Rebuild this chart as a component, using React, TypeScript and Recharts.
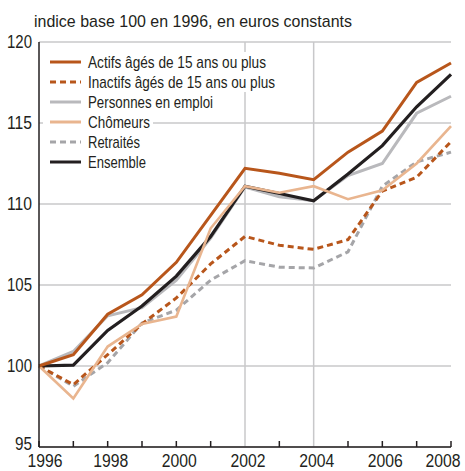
import { LineChart, Line, XAxis, YAxis, CartesianGrid, ReferenceLine } from "recharts";

const years = [1996, 1997, 1998, 1999, 2000, 2001, 2002, 2003, 2004, 2005, 2006, 2007, 2008];
const actifs = [100, 100.7, 103.2, 104.4, 106.4, 109.3, 112.2, 111.9, 111.5, 113.2, 114.5, 117.5, 118.7];
const inactifs = [100, 98.85, 100.7, 102.6, 104.2, 106.3, 108.0, 107.45, 107.2, 107.8, 110.8, 111.65, 113.85];
const emploi = [100, 100.9, 103.1, 103.6, 105.3, 107.9, 111.05, 110.45, 110.2, 111.75, 112.5, 115.6, 116.65];
const chomeurs = [100, 98.0, 101.2, 102.6, 103.05, 108.5, 111.1, 110.7, 111.1, 110.3, 110.85, 112.5, 114.8];
const retraites = [100, 98.75, 100.2, 102.65, 103.45, 105.3, 106.5, 106.1, 106.05, 107.05, 111.1, 112.6, 113.2];
const ensemble = [100, 100.05, 102.2, 103.7, 105.55, 108.0, 111.1, 110.65, 110.2, 111.85, 113.6, 116.0, 118.0];
const yTicks = [95, 100, 105, 110, 115, 120];
const xLabels = [1996, 1998, 2000, 2002, 2004, 2006, 2008];

const data = years.map((year, i) => ({
  year,
  actifs: actifs[i],
  inactifs: inactifs[i],
  emploi: emploi[i],
  chomeurs: chomeurs[i],
  retraites: retraites[i],
  ensemble: ensemble[i],
}));

const FONT = "'Liberation Sans', Arial, sans-serif";
const ORANGE = "#b8561b";
const INK = "#231f20";
const GRID = "#c8c8ca";

// textW: rendered width of the legend label (the original font is condensed)
const series = [
  { key: "actifs", label: "Actifs âgés de 15 ans ou plus", color: ORANGE, dash: undefined, width: 3, textW: 178 },
  { key: "inactifs", label: "Inactifs âgés de 15 ans ou plus", color: ORANGE, dash: "6 4", width: 3, textW: 187 },
  { key: "emploi", label: "Personnes en emploi", color: "#b9b9bc", dash: undefined, width: 3, textW: 125 },
  { key: "chomeurs", label: "Chômeurs", color: "#e9b58f", dash: undefined, width: 2.6, textW: 62 },
  { key: "retraites", label: "Retraités", color: "#a5a5a8", dash: "6 4", width: 3, textW: 52 },
  { key: "ensemble", label: "Ensemble", color: INK, dash: undefined, width: 3.2, textW: 58 },
];
const drawOrder = ["emploi", "retraites", "inactifs", "ensemble", "chomeurs", "actifs"];

function XTick(props: any) {
  const { x, y, payload } = props;
  const v = payload.value;
  const showLine = v !== 2002 && v !== 2004;
  let dx = 3;
  if (v === 1996) dx = 6;
  if (v === 2008) dx = -8;
  return (
    <g>
      {showLine && <line x1={x} x2={x} y1={y} y2={y - 6} stroke={INK} strokeWidth={1.5} />}
      {xLabels.includes(v) && (
        <text
          x={x + dx}
          y={y + 20}
          textAnchor="middle"
          fontSize={18}
          fill={INK}
          fontFamily={FONT}
          textLength={35}
          lengthAdjust="spacingAndGlyphs"
        >
          {v}
        </text>
      )}
    </g>
  );
}

function YTick(props: any) {
  const { x, y, payload } = props;
  // the bottom label sits a little higher so it clears the first year label
  const dy = payload.value === 95 ? 3 : 6;
  return (
    <text
      x={x}
      y={y + dy}
      textAnchor="end"
      fontSize={19}
      fill={INK}
      fontFamily={FONT}
      textLength={payload.value >= 100 ? 25 : 17}
      lengthAdjust="spacingAndGlyphs"
    >
      {payload.value}
    </text>
  );
}

function LegendOverlay() {
  return (
    <svg width={300} height={130} style={{ position: "absolute", left: 0, top: 0, overflow: "visible" }}>
      {series.map((s, i) => {
        const cy = 62 + i * 20;
        return (
          <g key={s.key}>
            <rect x={43} y={cy - 10} width={45 + s.textW + 3} height={20} fill="#fff" />
            <line x1={50} x2={81} y1={cy} y2={cy} stroke={s.color} strokeWidth={3} strokeDasharray={s.dash} />
            <text
              x={88}
              y={cy + 6}
              fontSize={17}
              fill={INK}
              fontFamily={FONT}
              textLength={s.textW}
              lengthAdjust="spacingAndGlyphs"
            >
              {s.label}
            </text>
          </g>
        );
      })}
    </svg>
  );
}

export default function App() {
  return (
    <div style={{ position: "absolute", left: 0, top: 0, width: 465, height: 471, background: "#fff" }}>
      <LineChart width={465} height={471} data={data} margin={{ top: 42, right: 14, left: 0, bottom: 0 }}>
        <CartesianGrid vertical={false} stroke={GRID} strokeWidth={1.5} />
        <ReferenceLine x={2002} stroke={GRID} strokeWidth={1.5} />
        <ReferenceLine x={2004} stroke={GRID} strokeWidth={1.5} />
        <XAxis
          dataKey="year"
          type="number"
          domain={[1996, 2008]}
          ticks={years}
          interval={0}
          height={24}
          tickSize={0}
          tickMargin={0}
          stroke={INK}
          strokeWidth={1.5}
          tick={<XTick />}
        />
        <YAxis
          domain={[95, 120]}
          ticks={yTicks}
          width={39}
          tickSize={0}
          tickMargin={7}
          tickLine={false}
          stroke={INK}
          strokeWidth={1.5}
          tick={<YTick />}
        />
        {drawOrder.map((k) => {
          const s = series.find((x) => x.key === k)!;
          return (
            <Line
              key={k}
              type="linear"
              dataKey={k}
              stroke={s.color}
              strokeWidth={s.width}
              strokeDasharray={s.dash}
              dot={false}
              isAnimationActive={false}
            />
          );
        })}
      </LineChart>
      <svg width={465} height={40} style={{ position: "absolute", left: 0, top: 0 }}>
        <text x={34} y={27} fontSize={17} fill={INK} fontFamily={FONT} textLength={318} lengthAdjust="spacingAndGlyphs">
          indice base 100 en 1996, en euros constants
        </text>
      </svg>
      <LegendOverlay />
    </div>
  );
}
